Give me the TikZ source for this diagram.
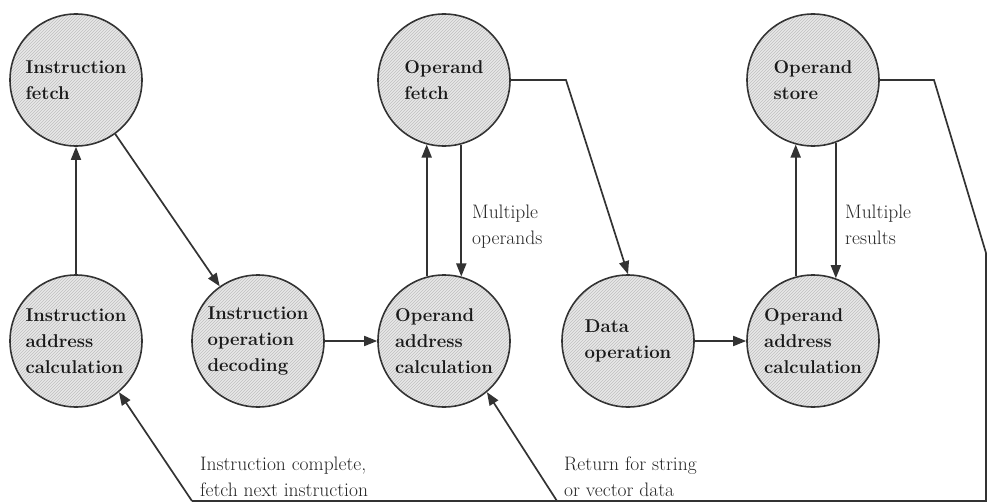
\documentclass[tikz,border=0pt]{standalone}
\usetikzlibrary{arrows.meta,patterns}
\begin{document}
\begin{tikzpicture}[x=1pt,y=-1pt,
  stage/.style={circle, draw=black!80, line width=1.6pt, minimum size=132pt, inner sep=0pt,
    preaction={fill=gray!18}, pattern=north east lines, pattern color=gray!50,
    font=\fontsize{18.5}{26}\selectfont\bfseries, align=left, text=black!90},
  flow/.style={draw=black!80, line width=1.7pt, -{Triangle[length=13pt,width=10pt]}},
  plain/.style={draw=black!80, line width=1.7pt},
  lbl/.style={font=\fontsize{19.5}{26}\selectfont, align=left, inner sep=0pt, text=black!85, anchor=base west}]
\useasboundingbox (0,0) rectangle (988,503);
\node[stage] (IF)   at (76,80)   {Instruction\\fetch};
\node[stage] (OF)   at (444,80)  {Operand\\fetch};
\node[stage] (OS)   at (813,80)  {Operand\\store};
\node[stage] (IAC)  at (76,341)  {Instruction\\address\\calculation};
\node[stage] (IOD)  at (258,341) {Instruction\\operation\\decoding};
\node[stage] (OAC1) at (444,341) {Operand\\address\\calculation};
\node[stage] (DO)   at (628,341) {Data\\operation};
\node[stage] (OAC2) at (813,341) {Operand\\address\\calculation};

\node[lbl] (mo) at (472,244) {Multiple\\operands};
\node[lbl] (mr) at (845,244) {Multiple\\results};
\node[lbl] (ic) at (200,496) {Instruction complete,\\fetch next instruction};
\node[lbl] (rs) at (564,496) {Return for string\\or vector data};

\coordinate (ofk) at (566,80);
\coordinate (osk) at (934,80);
\coordinate (re) at (986,253);
\coordinate (rb) at (986,501);
\coordinate (bl) at (192,501);
\coordinate (bm) at (557,501);

\draw[flow] (IAC.north) -- (IF.south);
\draw[flow] (IF.-54) -- (IOD.125);
\draw[flow] (IOD.east) -- (OAC1.west);
\draw[flow] (OAC1.105) -- (OF.255);
\draw[flow] (OF.285) -- (OAC1.75);
\draw[flow] (OF.east) -- (ofk) -- (DO.north);
\draw[flow] (DO.east) -- (OAC2.west);
\draw[flow] (OAC2.105) -- (OS.255);
\draw[flow] (OS.290) -- (OAC2.70);
\draw[plain] (OS.east) -- (osk) -- (re) -- (rb) -- (bl);
\draw[flow] (bl) -- (IAC.-50);
\draw[flow] (bm) -- (OAC1.-50);
\end{tikzpicture}
\end{document}
